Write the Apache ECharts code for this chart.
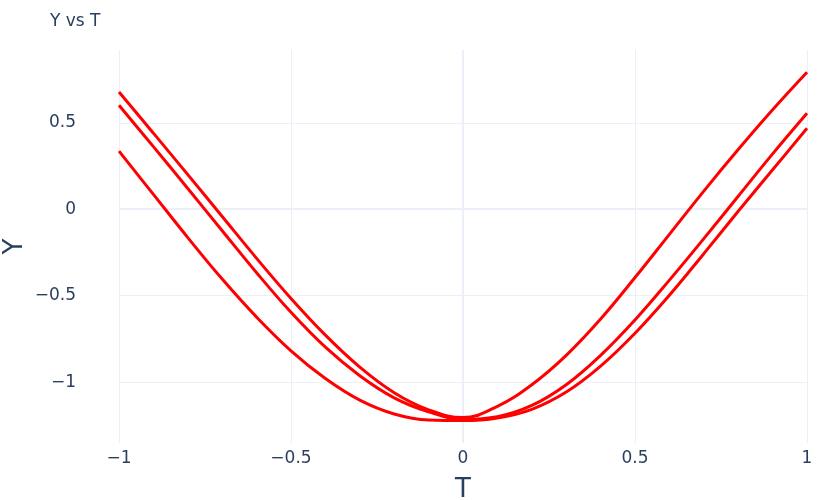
<!DOCTYPE html>
<html>
<head>
<meta charset="utf-8">
<title>Y vs T</title>
<script src="https://cdn.jsdelivr.net/npm/echarts@6/dist/echarts.min.js"></script>
<style>
  html, body { margin: 0; padding: 0; background: #fff; }
  #chart { width: 835px; height: 500px; }
</style>
</head>
<body>
<div id="chart"></div>
<script>
/// data

const T = [-1, -0.9, -0.8, -0.7, -0.6, -0.5, -0.4, -0.3, -0.2, -0.1, 0,
           0.1, 0.2, 0.3, 0.4, 0.5, 0.6, 0.7, 0.8, 0.9, 1]

const yA = [0.678, 0.44, 0.20, -0.042, -0.284, -0.516, -0.728, -0.913, -1.061, -1.16, -1.205,
            -1.14, -1.015, -0.845, -0.635, -0.395, -0.145, 0.105, 0.345, 0.575, 0.792]
const yB = [0.601, 0.362, 0.12, -0.124, -0.367, -0.596, -0.798, -0.963, -1.091, -1.172, -1.215,
            -1.20, -1.135, -1.015, -0.845, -0.64, -0.41, -0.17, 0.075, 0.32, 0.555]
const yC = [0.336, 0.086, -0.164, -0.404, -0.624, -0.819, -0.979, -1.104, -1.184, -1.219, -1.222,
            -1.207, -1.157, -1.057, -0.907, -0.717, -0.497, -0.257, -0.012, 0.228, 0.468]

const xTicks = [-1, -0.5, 0, 0.5, 1]
const yTicks = [-1, -0.5, 0, 0.5]


/// style

const FONT = 'DejaVu Sans'
const INK = '#2a3f5f'
const GRID = '#ebf0f8'
const RED = '#ff0000'

const minus = v => String(v).replace('-', '\u2212')
const pairs = ys => T.map((t, i) => [t, ys[i]])

function curve(ys) {
  return {
    type: 'line',
    data: pairs(ys),
    smooth: 0.4,
    showSymbol: false,
    z: 3,
    lineStyle: { color: RED, width: 3 }
  }
}


/// chart

const chart = echarts.init(document.getElementById('chart'), null, { renderer: 'canvas' })

chart.setOption({
  animation: false,
  backgroundColor: '#fff',
  title: {
    text: 'Y vs T',
    left: 45,
    top: 8,
    textStyle: { fontFamily: FONT, fontSize: 17, fontWeight: 'normal', color: INK }
  },
  grid: { left: 119, right: 28, top: 50, bottom: 57, outerBoundsMode: 'none', containLabel: false },
  xAxis: {
    type: 'value',
    min: xTicks[0],
    max: xTicks[xTicks.length - 1],
    interval: 0.5,
    name: 'T',
    nameLocation: 'middle',
    nameGap: 34,
    nameMoveOverlap: false,
    nameTextStyle: { fontFamily: FONT, fontSize: 26, color: INK },
    axisLine: { show: false },
    axisTick: { show: false },
    axisLabel: { margin: 7, fontFamily: FONT, fontSize: 17, color: INK, formatter: minus },
    splitLine: { lineStyle: { color: GRID, width: 1 } }
  },
  yAxis: {
    type: 'value',
    min: -1.352,
    max: 0.921,
    splitNumber: yTicks.length + 1,
    name: 'Y',
    nameLocation: 'middle',
    nameGap: 91,
    nameRotate: 90,
    nameMoveOverlap: false,
    nameTextStyle: { fontFamily: FONT, fontSize: 26, color: INK },
    axisLine: { show: false },
    axisTick: { show: false },
    axisLabel: {
      margin: 43, fontFamily: FONT, fontSize: 17, color: INK, formatter: minus,
      showMinLabel: false, showMaxLabel: false
    },
    splitLine: { showMinLine: false, showMaxLine: false, lineStyle: { color: GRID, width: 1 } }
  },
  series: [
    {
      // zero lines, kept under the curves
      type: 'line',
      data: [],
      z: 1,
      markLine: {
        z: 1,
        silent: true,
        symbol: 'none',
        label: { show: false },
        lineStyle: { color: GRID, width: 2, type: 'solid' },
        data: [{ xAxis: 0 }, { yAxis: 0 }]
      }
    },
    curve(yA),
    curve(yB),
    curve(yC)
  ]
})
</script>
</body>
</html>
